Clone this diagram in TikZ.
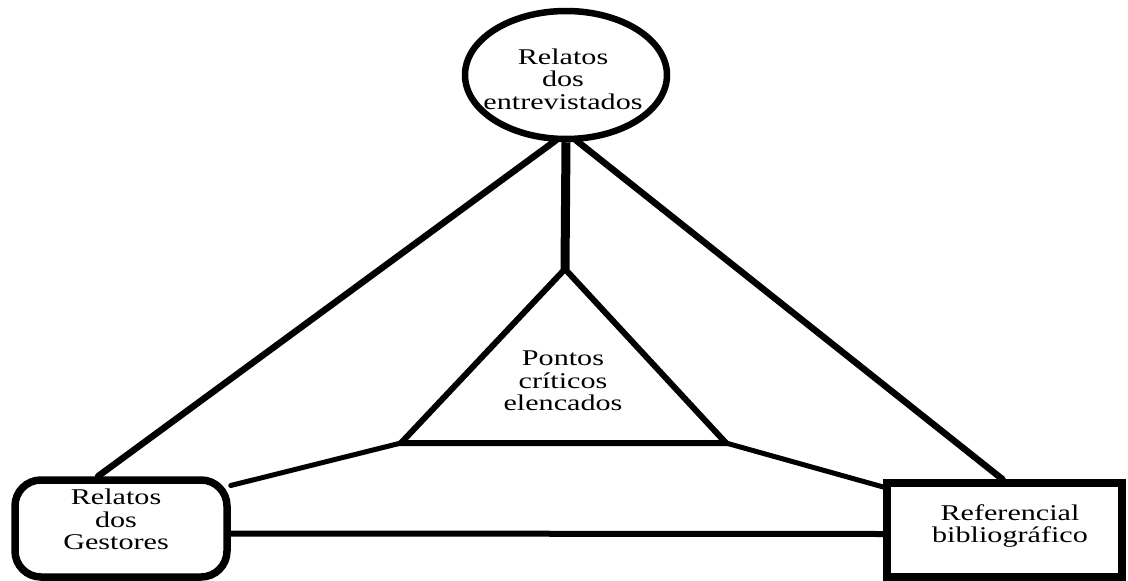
\documentclass[tikz,border=0pt]{standalone}
\usepackage{fontspec}
\setmainfont{Liberation Serif}
\newfontfamily\widefont[FakeStretch=1.34]{Liberation Serif}
\usetikzlibrary{shapes.geometric}
\tikzset{
  lbl/.style={align=center, inner sep=0pt, font=\widefont\fontsize{22.5}{22.5}\selectfont},
  conn/.style={line width=6.5pt, line cap=round},
  thinconn/.style={line width=5pt, line cap=round},
  shapebox/.style={draw, line width=7.5pt, inner sep=0pt}
}
\begin{document}
\begin{tikzpicture}[x=1pt,y=-1pt]
\useasboundingbox (0,0) rectangle (1128,581);
% shapes
\node[shapebox, ellipse, line width=6.5pt, minimum width=202pt, minimum height=128pt] (ent) at (566,75) {};
\node[shapebox, rounded corners=26pt, minimum width=212pt, minimum height=97pt] (ges) at (121,528.5) {};
\node[shapebox, minimum width=235pt, minimum height=94pt] (ref) at (1004.5,530) {};
% triangle
\coordinate (apex) at (565,269);
\coordinate (tl) at (401,443);
\coordinate (tr) at (726,443);
\draw[line width=6pt, line join=miter] (apex) -- (tl) -- (tr) -- cycle;
% labels
\node[lbl] (entT) at (563,79) {Relatos\\dos\\entrevistados};
\node[lbl] (gesT) at (116,519.5) {Relatos\\dos\\Gestores};
\node[lbl] (refT) at (1010,526) {Referencial\\bibliográfico};
\node[lbl] (triT) at (563,381) {Pontos\\críticos\\elencados};
% connectors
\draw[line width=9pt] (ent.south) -- (apex);
\draw[conn] ([xshift=-10pt,yshift=2pt]ent.south) -- ([xshift=-23pt]ges.north);
\draw[conn] ([xshift=10pt,yshift=2pt]ent.south) -- ([xshift=-2pt]ref.north);
\draw[thinconn] (tl) -- ([yshift=43pt]ges.east);
\draw[thinconn] (tr) -- ([yshift=43pt]ref.west);
\draw[line width=6pt] ([yshift=-5pt]ges.east) -- ([yshift=-4pt]ref.west);
\end{tikzpicture}
\end{document}
